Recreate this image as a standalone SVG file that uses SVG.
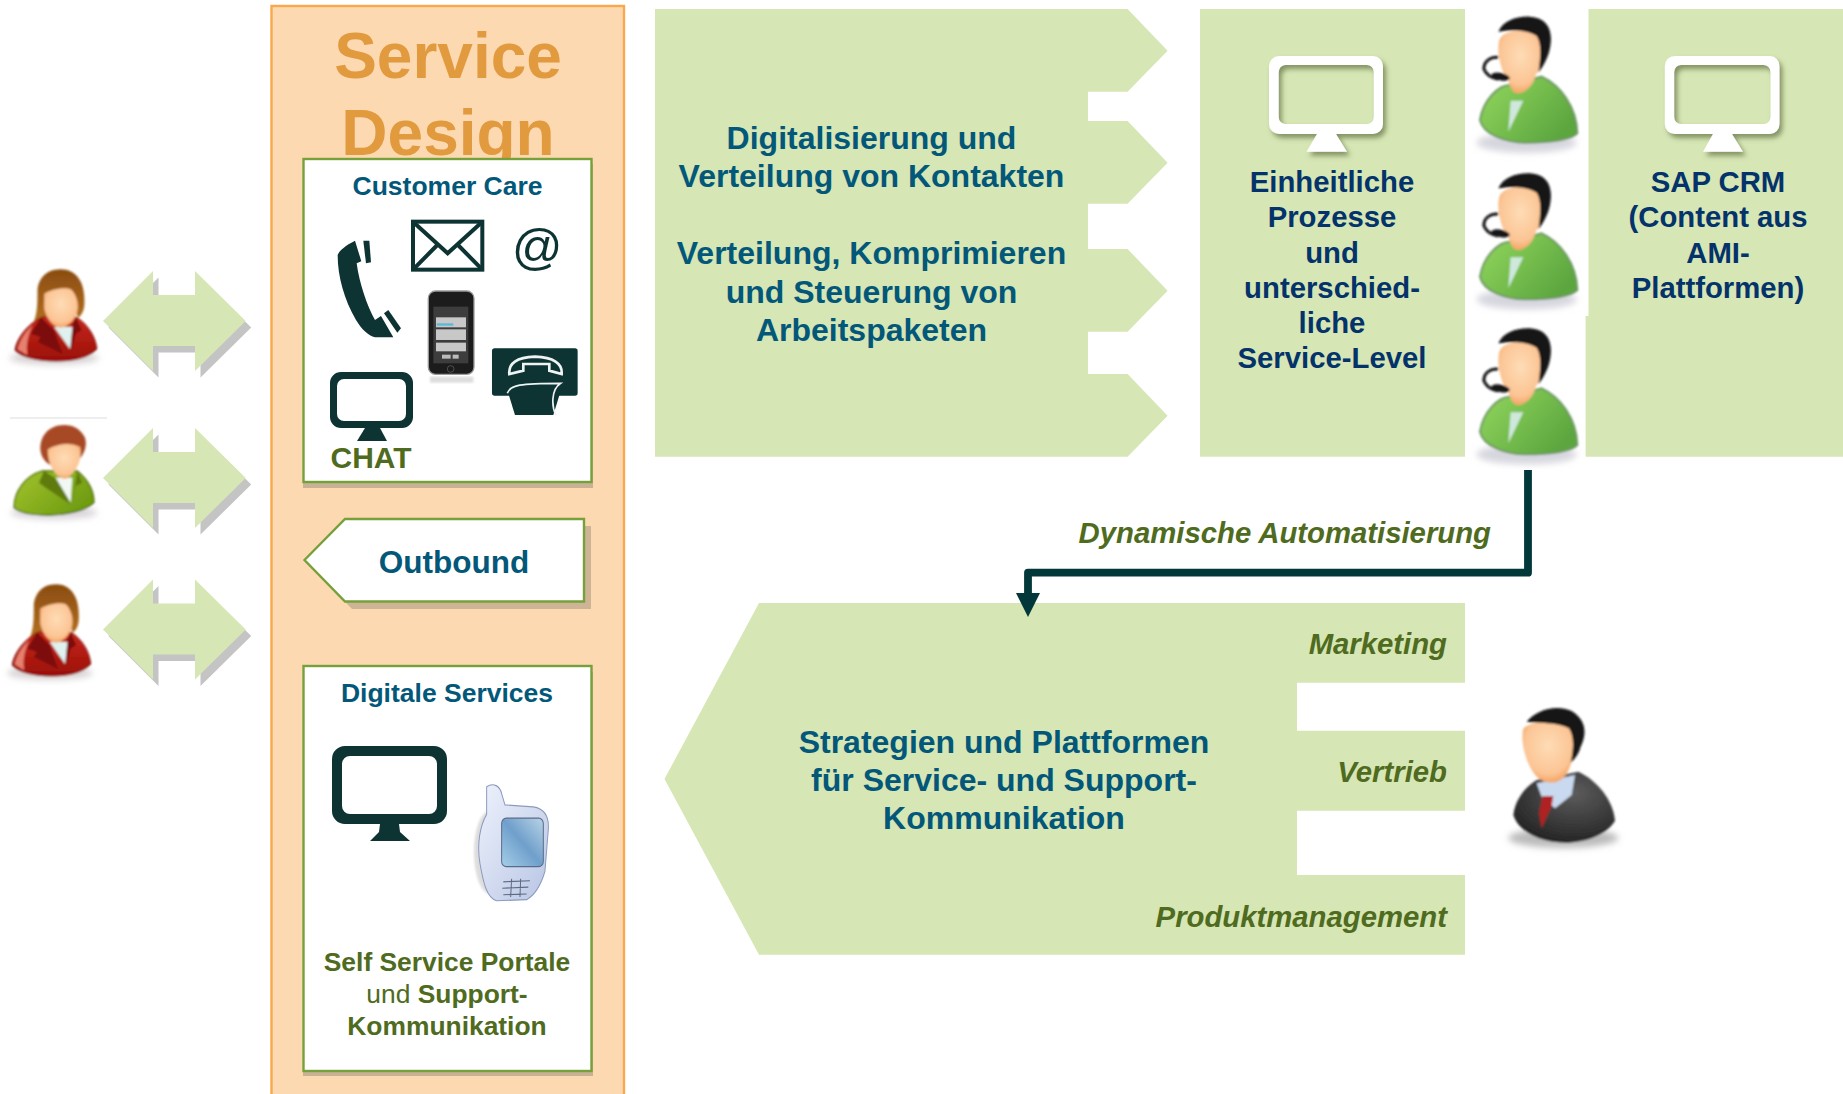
<svg xmlns="http://www.w3.org/2000/svg" width="1843" height="1094" viewBox="0 0 1843 1094">
<style>
text{font-family:"Liberation Sans",Arial,sans-serif;font-weight:700}
.m{text-anchor:middle}
.e{text-anchor:end}
.teal{fill:#03587a}
.navy{fill:#03336a}
.olive{fill:#4f6b20}
.lab{font-size:29.300px;font-style:italic;fill:#4f6b20}
.big{font-size:32px}
.nv{font-size:29.300px}
.sm{font-size:26.400px}
.ic{fill:#0d3333}
.g{fill:#d6e6b4}
.sh{fill:#c4c4c4}
.box{fill:#fff;stroke:#76a03a;stroke-width:2.400}
.bs{fill:#c9b294}
</style>
<defs>
<filter id="b1" x="-10%" y="-10%" width="120%" height="120%"><feGaussianBlur stdDeviation="3.200"/></filter>
<filter id="b5" x="-20%" y="-40%" width="140%" height="180%"><feGaussianBlur stdDeviation="9"/></filter>
<filter id="ds" x="-15%" y="-15%" width="135%" height="140%"><feDropShadow dx="3" dy="4" stdDeviation="2.500" flood-color="#6f7f50" flood-opacity=".8"/></filter>
<linearGradient id="gr" x1="0" y1="0" x2="1" y2=".6"><stop offset="0" stop-color="#93d85e"/><stop offset="1" stop-color="#5ca63f"/></linearGradient>
<linearGradient id="rd" x1="0" y1="0" x2="0" y2="1"><stop offset="0" stop-color="#c8281c"/><stop offset="1" stop-color="#9a0f08"/></linearGradient>
<linearGradient id="lg" x1="0" y1="0" x2="1" y2=".6"><stop offset="0" stop-color="#a3c42e"/><stop offset="1" stop-color="#6f9c10"/></linearGradient>
<linearGradient id="hr" x1="0" y1="0" x2="0" y2="1"><stop offset="0" stop-color="#8a4c10"/><stop offset="1" stop-color="#b4701e"/></linearGradient>
<radialGradient id="fc" cx=".5" cy=".4" r=".65"><stop offset="0" stop-color="#fedcb6"/><stop offset=".7" stop-color="#fcc595"/><stop offset="1" stop-color="#f19a55"/></radialGradient>
<radialGradient id="dk" cx=".6" cy=".3" r=".8"><stop offset="0" stop-color="#5c5c5c"/><stop offset="1" stop-color="#1e1e1e"/></radialGradient>
<linearGradient id="ph" x1="0" y1="0" x2="1" y2="1"><stop offset="0" stop-color="#eef2fc"/><stop offset="1" stop-color="#b8c5e4"/></linearGradient>
<linearGradient id="sc" x1="1" y1="0" x2="0" y2="1"><stop offset="0" stop-color="#b9d3e6"/><stop offset=".5" stop-color="#6f9fcb"/><stop offset="1" stop-color="#a5cfe8"/></linearGradient>
<marker id="ah" markerUnits="userSpaceOnUse" markerWidth="24" markerHeight="24" refX="0" refY="12" orient="auto"><path d="M0 0L24 12L0 24Z" fill="#03383a"/></marker>
<path id="dbl" d="M103 81L153 31V55H195V31L245.700 81L195 131V106H153V131Z"/>
<g id="agent" filter="url(#b1)">
<ellipse cx="170" cy="398" rx="150" ry="30" fill="#d5d5de" filter="url(#b5)"/>
<path d="M30 330C40 270 85 225 120 225L215 200C270 225 320 290 322 370C300 392 240 398 165 398C110 398 40 375 30 330Z" fill="url(#gr)" stroke="#6f9a62" stroke-width="6"/>
<path d="M122 272L160 272L115 365Z" fill="#cfe8dc"/>
<path d="M88 90C100 58 170 50 205 80C225 110 218 170 197 195C192 225 165 252 140 250C125 247 120 225 115 212C95 190 78 130 88 90Z" fill="url(#fc)"/>
<path d="M85 65C100 32 140 18 180 20C228 23 247 55 242 100C240 130 224 165 205 188C212 140 215 100 200 78C170 58 120 60 85 65Z" fill="#141414"/>
<path d="M85 142C55 140 40 160 42 178C50 195 70 205 85 208" fill="none" stroke="#141414" stroke-width="9"/>
<ellipse cx="92" cy="200" rx="28" ry="11" transform="rotate(12 92 200)" fill="#141414"/>
</g>
<g id="woman" filter="url(#b1)">
<ellipse cx="140" cy="288" rx="135" ry="20" fill="#d8d2d2" filter="url(#b5)"/>
<path d="M160 22C112 22 92 55 90 85C90 120 90 155 78 182C105 175 120 165 125 150L205 150L212 168C232 152 232 130 230 100C227 55 202 22 160 22Z" fill="url(#hr)"/>
<path d="M22 265C30 220 70 180 105 165L205 165C240 185 265 225 268 262C240 290 190 297 145 297C90 297 40 285 22 265Z" fill="url(#rd)" stroke="#7d0b08" stroke-width="3"/>
<path d="M30 262C40 225 60 205 75 190C60 225 55 250 60 280Z" fill="#e88070"/>
<path d="M100 165L70 215L100 225L90 240L165 275L140 205Z" fill="#7d0b08"/>
<path d="M205 165L222 205L205 215L190 270L190 200Z" fill="#7d0b08"/>
<path d="M140 195L195 195L188 262Z" fill="#dff2f0"/>
<path d="M110 95C130 83 172 73 192 83C208 100 217 130 207 157C197 182 175 197 160 197C138 197 118 172 110 140Z" fill="url(#fc)"/>
</g>
</defs>
<rect width="1843" height="1094" fill="#fff"/>

<g id="customer-1"><use href="#woman" transform="translate(7.500 262) scale(.3333)"/></g>
<g id="customer-2">
<path d="M10 418H107" stroke="#ddd" stroke-width="1"/>
<g transform="translate(-1 241) scale(.3333)" filter="url(#b1)">
<ellipse cx="165" cy="815" rx="130" ry="20" fill="#d8d2d8" filter="url(#b5)"/>
<path d="M195 552C150 552 122 585 124 625C126 650 140 665 155 672L235 660C258 640 265 610 258 590C245 565 225 552 195 552Z" fill="#a84a28"/>
<path d="M45 800C45 750 80 705 130 690L235 690C265 715 285 750 285 785C260 810 200 822 150 822C100 822 60 815 45 800Z" fill="url(#lg)" stroke="#4e7008" stroke-width="4"/>
<path d="M135 690L120 725L140 740L215 790L190 725Z" fill="#5f7a10"/>
<path d="M235 690L250 725L230 735L220 790Z" fill="#5f7a10"/>
<path d="M170 710L220 710L215 785Z" fill="#f2f8f4"/>
<path d="M146 625C175 608 215 603 244 618C249 650 238 692 200 714C172 714 146 675 146 625Z" fill="url(#fc)"/>
</g>
</g>
<g id="customer-3"><use href="#woman" transform="translate(5 577) scale(.3200 .3333)"/></g>

<g id="arrow-1"><use href="#dbl" class="sh" transform="translate(5.500 246.500)"/><use href="#dbl" class="g" transform="translate(0 240)"/></g>
<g id="arrow-2"><use href="#dbl" class="sh" transform="translate(5.500 403.500)"/><use href="#dbl" class="g" transform="translate(0 397)"/></g>
<g id="arrow-3"><use href="#dbl" class="sh" transform="translate(5.500 555)"/><use href="#dbl" class="g" transform="translate(0 548.500)"/></g>

<g id="service-design">
<rect x="271.500" y="6" width="352.500" height="1095" fill="#fdd9b1" stroke="#f9a94b" stroke-width="2.400"/>
<text class="m" x="448" y="77.500" font-size="64" fill="#e29a3f">Service</text>
<text class="m" x="448" y="154.500" font-size="64" fill="#e29a3f">Design</text>
</g>

<g id="customer-care">
<rect class="bs" x="303" y="164" width="290" height="324"/>
<rect class="box" x="303.500" y="159" width="288" height="323"/>
<text class="m teal" x="447.500" y="195" font-size="26.500">Customer Care</text>
<g transform="translate(320 220) scale(.3333)">
<path class="ic" d="M105 62C80 75 58 90 53 105C53 170 73 240 108 300C125 328 145 347 165 352L220 352L183 288L165 300C142 260 118 190 110 130L124 124Z"/>
<path class="ic" d="M130 62L148 62L153 127L138 130Z"/>
<path class="ic" d="M192 280L205 270L243 325L232 338Z"/>
<rect x="279" y="5" width="208" height="144" fill="#fff" stroke="#0d3333" stroke-width="12"/>
<path d="M279 5L383 100L487 5M279 149L352 75M487 149L414 75" fill="none" stroke="#0d3333" stroke-width="12"/>
<rect x="325" y="213" width="137" height="250" rx="22" fill="#1c1c1c" stroke="#9a9a9a" stroke-width="4"/>
<rect x="340" y="260" width="105" height="170" fill="#3d3d3d"/>
<rect x="348" y="292" width="90" height="30" fill="#c8c8c8"/>
<rect x="348" y="328" width="90" height="32" fill="#c8c8c8"/>
<rect x="348" y="368" width="90" height="26" fill="#c8c8c8"/>
<rect x="366" y="404" width="26" height="12" fill="#bbb"/>
<rect x="398" y="404" width="18" height="12" fill="#bbb"/>
<rect x="350" y="310" width="50" height="7" fill="#58b8d8"/>
<circle cx="392" cy="447" r="10" fill="none" stroke="#666" stroke-width="2"/>
<rect x="330" y="470" width="130" height="18" fill="#bbb" opacity=".5" filter="url(#b1)"/>
<rect class="ic" x="516" y="385" width="257" height="142" rx="8"/>
<path class="ic" d="M565 520H720L700 585H585Z"/>
<path d="M568 462C565 430 590 412 645 410C700 412 728 430 725 462L688 452V432H610V452Z" fill="#0d3333" stroke="#eef3f3" stroke-width="8"/>
<path d="M562 520C570 495 600 490 722 490C692 510 695 560 708 586" fill="none" stroke="#eef3f3" stroke-width="5"/>
</g>
<text class="m" x="536.500" y="264" font-size="50" fill="#0d3333" font-style="italic" style="font-weight:400">@</text>
<g id="chat-monitor">
<path class="ic" fill-rule="evenodd" d="M341 372H402A11 11 0 0 1 413 383V417A11 11 0 0 1 402 428H341A11 11 0 0 1 330 417V383A11 11 0 0 1 341 372ZM344 379A7 7 0 0 0 337 386V414A7 7 0 0 0 344 421H399A7 7 0 0 0 406 414V386A7 7 0 0 0 399 379Z"/>
<path class="ic" d="M365 428H380L387 441H357Z"/>
</g>
<text class="olive" x="330.500" y="467.500" font-size="30">CHAT</text>
</g>

<g id="outbound">
<path class="bs" d="M352 526H591V609H352L312 567Z" opacity=".95"/>
<path class="box" d="M304.500 560L345 519H584V601.500H345Z"/>
<text class="m teal" x="454" y="573" font-size="31.500">Outbound</text>
</g>

<g id="digitale-services">
<rect class="bs" x="303" y="672" width="290" height="404"/>
<rect class="box" x="303.500" y="666" width="288" height="405"/>
<text class="m teal" x="447" y="702" font-size="26.500">Digitale Services</text>
<path class="ic" fill-rule="evenodd" d="M345 746H434A13 13 0 0 1 447 759V811A13 13 0 0 1 434 824H345A13 13 0 0 1 332 811V759A13 13 0 0 1 345 746ZM350 756A8 8 0 0 0 342 764V806A8 8 0 0 0 350 814H429A8 8 0 0 0 437 806V764A8 8 0 0 0 429 756Z"/>
<path class="ic" d="M380 824H399L400 832L410 841H370L379 832Z"/>
<g transform="translate(270 500) scale(.3333 .3788)">
<ellipse cx="660" cy="930" rx="48" ry="110" fill="#ddd" filter="url(#b1)"/>
<path d="M650 790L650 757C670 745 690 755 695 775L705 805L790 810C825 815 838 835 835 870L825 980C815 1010 800 1040 770 1055L680 1058C650 1050 640 1010 630 960C620 910 630 860 650 830Z" fill="url(#ph)" stroke="#8c9bbd" stroke-width="3"/>
<rect x="695" y="840" width="125" height="128" rx="14" fill="url(#sc)" stroke="#5a6a88" stroke-width="3"/>
<path d="M700 1008L780 1005M697 1025L775 1022M700 1042L770 1040M725 1000L722 1048M752 1000L750 1048" fill="none" stroke="#5e6a80" stroke-width="3"/>
</g>
<text class="m olive sm" x="447" y="971">Self Service Portale</text>
<text class="m olive sm" x="447" y="1003"><tspan style="font-weight:400">und </tspan>Support-</text>
<text class="m olive sm" x="447" y="1035">Kommunikation</text>
</g>

<g id="verteilung">
<path class="g" d="M655 9H1127.600L1167.600 50.700L1127.600 91.700H1088V121H1127.600L1167.600 162.700L1127.600 203.700H1088V249H1127.600L1167.600 290.700L1127.600 331.700H1088V374H1127.600L1167.600 415.700L1127.600 456.700H655Z"/>
<text class="m teal big" x="871.500" y="148.700">Digitalisierung und</text>
<text class="m teal big" x="871.500" y="187.300">Verteilung von Kontakten</text>
<text class="m teal big" x="871.500" y="264">Verteilung, Komprimieren</text>
<text class="m teal big" x="871.500" y="302.700">und Steuerung von</text>
<text class="m teal big" x="871.500" y="340.700">Arbeitspaketen</text>
</g>

<g id="prozesse">
<rect class="g" x="1200" y="9" width="265" height="447.700"/>
<path filter="url(#ds)" fill="#fff" fill-rule="evenodd" d="M1279 56H1373A10 10 0 0 1 1383 66V124A10 10 0 0 1 1373 134H1336L1347 151.700H1306.500L1317 134H1279A10 10 0 0 1 1269 124V66A10 10 0 0 1 1279 56ZM1285 65A7 7 0 0 0 1278.700 72V117A7 7 0 0 0 1285 124H1367A7 7 0 0 0 1373.800 117V72A7 7 0 0 0 1367 65Z"/>
<text class="m navy nv" x="1332" y="191.500">Einheitliche</text>
<text class="m navy nv" x="1332" y="227">Prozesse</text>
<text class="m navy nv" x="1332" y="262.500">und</text>
<text class="m navy nv" x="1332" y="297.500">unterschied-</text>
<text class="m navy nv" x="1332" y="332.500">liche</text>
<text class="m navy nv" x="1332" y="367.500">Service-Level</text>
</g>

<g id="sap-crm">
<path class="g" d="M1588.500 9H1843V456.700H1585.600V316H1588.500Z"/>
<path filter="url(#ds)" fill="#fff" fill-rule="evenodd" d="M1675 56H1770A10 10 0 0 1 1779.500 66V124A10 10 0 0 1 1770 134H1732L1743 151.700H1703L1713 134H1675A10 10 0 0 1 1664.800 124V66A10 10 0 0 1 1675 56ZM1681 65A7 7 0 0 0 1674.200 72V117A7 7 0 0 0 1681 124H1763A7 7 0 0 0 1770.500 117V72A7 7 0 0 0 1763 65Z"/>
<text class="m navy nv" x="1718" y="191.500">SAP CRM</text>
<text class="m navy nv" x="1718" y="227">(Content aus</text>
<text class="m navy nv" x="1718" y="262.500">AMI-</text>
<text class="m navy nv" x="1718" y="297.500">Plattformen)</text>
</g>

<g id="agent-1"><use href="#agent" transform="translate(1470 10) scale(.3333)"/></g>
<g id="agent-2"><use href="#agent" transform="translate(1470 166.700) scale(.3333)"/></g>
<g id="agent-3"><use href="#agent" transform="translate(1470 321.700) scale(.3333)"/></g>

<g id="strategien">
<path class="g" d="M759 603H1465V682.700H1297V730.700H1465V810.700H1297V875H1465V954.700H759L664.500 779Z"/>
<text class="m teal big" x="1004" y="752.700">Strategien und Plattformen</text>
<text class="m teal big" x="1004" y="791">für Service- und Support-</text>
<text class="m teal big" x="1004" y="828.700">Kommunikation</text>
<text class="e lab" x="1447" y="654">Marketing</text>
<text class="e lab" x="1447" y="781.500">Vertrieb</text>
<text class="e lab" x="1447" y="926.500">Produktmanagement</text>
</g>

<g id="manager" transform="translate(1500 700) scale(.3333)">
<g filter="url(#b1)">
<ellipse cx="190" cy="414" rx="165" ry="30" fill="#bbb" filter="url(#b5)"/>
<path d="M40 345C45 300 75 260 110 240L235 215C290 240 340 300 345 362C325 400 260 428 195 428C120 428 55 395 40 345Z" fill="url(#dk)"/>
<path d="M110 250L225 225L215 285L165 325L125 290Z" fill="#c9d9f0"/>
<path d="M128 288L160 288L155 318L125 385L117 340Z" fill="#b02020"/>
<path d="M70 85C110 55 190 60 218 90C228 130 220 190 198 225C175 255 135 255 108 228C80 195 60 130 70 85Z" fill="url(#fc)"/>
<path d="M80 65C110 28 170 12 215 33C258 60 262 100 242 140C237 160 227 175 212 188C222 140 222 110 207 85C170 65 110 70 80 65Z" fill="#141414"/>
</g>
</g>

<g id="connectors">
<path d="M1528 470V572.700H1028V593" fill="none" stroke="#03383a" stroke-width="7.800" stroke-linejoin="round" marker-end="url(#ah)"/>
</g>
<text class="e lab" x="1491" y="542.500">Dynamische Automatisierung</text>
</svg>
